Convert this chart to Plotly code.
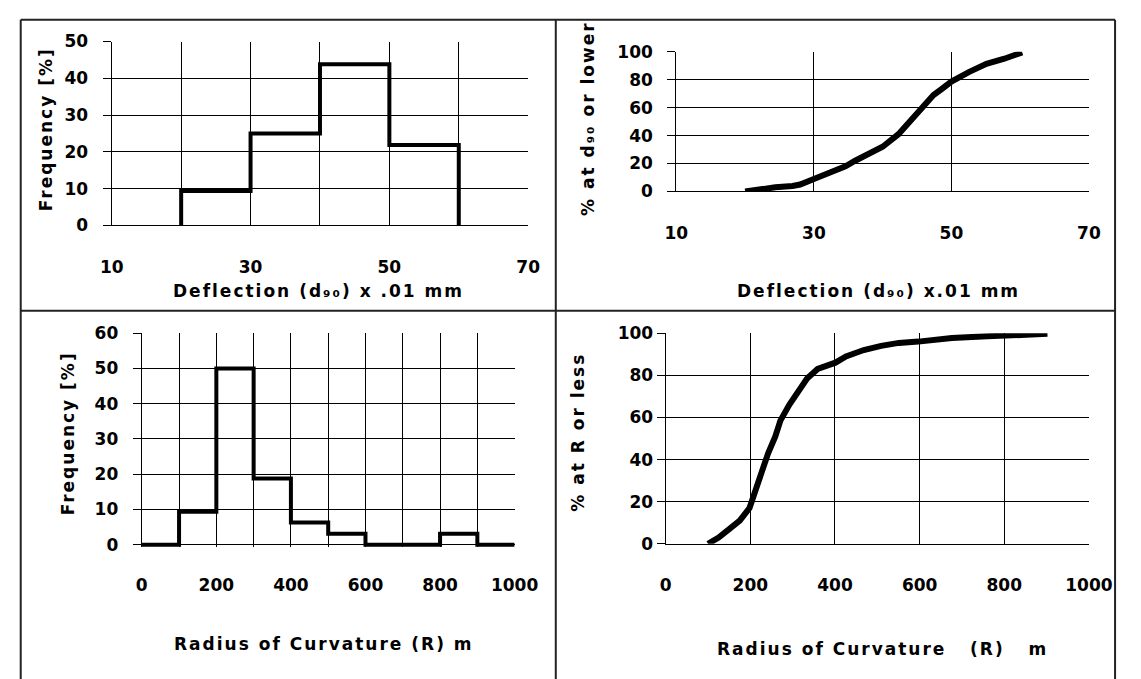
import plotly.graph_objects as go

W, H = 1141, 679

# ---------------- data ----------------
# Top-left: frequency histogram of deflection (d90) x .01 mm
defl_edges = [20, 30, 40, 50, 60]
defl_freq = [9.4, 25.0, 43.8, 21.9]

# Top-right: cumulative % at d90 or lower
defl_cum_x = [20, 22, 24.4, 26.9, 28, 30, 32, 34.6, 36, 38.2, 40, 42.3, 44, 45,
              46, 47.4, 48.5, 50, 52.6, 55.1, 57.7, 60.3]
defl_cum_y = [0, 1.5, 3, 4, 5, 9, 13, 18, 22, 27, 32, 41, 50, 56.5,
              62, 69, 73, 78.6, 85.6, 91.4, 95, 99.5]

# Bottom-left: frequency histogram of radius of curvature (m)
rad_edges = [0, 100, 200, 300, 400, 500, 600, 700, 800, 900, 1000]
rad_freq = [0, 9.4, 50.0, 18.8, 6.3, 3.1, 0, 0, 3.1, 0]

# Bottom-right: cumulative % at R or less
rad_cum_x = [100, 125, 150, 175, 198, 213, 230, 242, 259, 271, 292, 313, 334,
             359, 401, 426, 468, 509, 551, 597, 676, 760, 818, 902]
rad_cum_y = [0, 3, 7, 11, 17, 26, 35, 43, 51, 58.5, 66, 72, 78.5,
             83, 86, 89, 92, 94, 95.4, 96, 97.7, 98.5, 99.2, 99.7]

# tick labels (major) and extra grid positions (minor)
tl_xticks = [10, 30, 50, 70]
tl_xgrid = [20, 40, 60]
tl_yticks = [0, 10, 20, 30, 40, 50]
tr_xticks = [10, 30, 50, 70]
tr_xgrid = []
tr_yticks = [0, 20, 40, 60, 80, 100]
bl_xticks = [0, 200, 400, 600, 800, 1000]
bl_xgrid = [100, 300, 500, 700, 900]
bl_yticks = [0, 10, 20, 30, 40, 50, 60]
br_xticks = [0, 200, 400, 600, 800, 1000]
br_xgrid = []
br_yticks = [0, 20, 40, 60, 80, 100]


def step_line(edges, freq):
    xs, ys = [edges[0]], [0]
    for i, f in enumerate(freq):
        xs += [edges[i], edges[i + 1]]
        ys += [f, f]
    xs.append(edges[-1])
    ys.append(0)
    return xs, ys


def px(x):
    return x / W


def py(y):
    return 1 - y / H


FONT = dict(family="DejaVu Sans", size=17, color="black", weight="bold")

fig = go.Figure()

hx, hy = step_line(defl_edges, defl_freq)
fig.add_trace(go.Scatter(x=hx, y=hy, mode="lines", xaxis="x", yaxis="y",
                         line=dict(color="black", width=4), hoverinfo="skip"))
fig.add_trace(go.Scatter(x=defl_cum_x, y=defl_cum_y, mode="lines", xaxis="x2", yaxis="y2",
                         line=dict(color="black", width=6), hoverinfo="skip"))
rx, ry = step_line(rad_edges, rad_freq)
fig.add_trace(go.Scatter(x=rx, y=ry, mode="lines", xaxis="x3", yaxis="y3",
                         line=dict(color="black", width=4), hoverinfo="skip"))
fig.add_trace(go.Scatter(x=rad_cum_x, y=rad_cum_y, mode="lines", xaxis="x4", yaxis="y4",
                         line=dict(color="black", width=6), hoverinfo="skip"))


def xcfg(anchor, dom, rng, vals, grid, showline=True):
    cfg = dict(anchor=anchor, domain=dom, range=rng, tickmode="array",
               tickvals=vals, ticktext=[str(v) for v in vals], showgrid=True,
               gridcolor="black", gridwidth=1.3, zeroline=False, showline=showline,
               linecolor="black", linewidth=1.3, ticks="", tickfont=FONT,
               ticklabelstandoff=26, fixedrange=True)
    if grid:
        cfg["minor"] = dict(tickmode="array", tickvals=grid, showgrid=True,
                            gridcolor="black", gridwidth=1.3, ticks="")
    return cfg


def ycfg(anchor, dom, rng, vals, standoff):
    return dict(anchor=anchor, domain=dom, range=rng, tickmode="array",
                tickvals=vals, ticktext=[str(v) for v in vals], showgrid=True,
                gridcolor="black", gridwidth=1.3, zeroline=False, showline=True,
                linecolor="black", linewidth=1.3, ticks="outside", ticklen=8,
                tickwidth=1.3, tickcolor="black", tickfont=FONT,
                ticklabelstandoff=standoff, fixedrange=True)


fig.update_layout(
    width=W, height=H, margin=dict(l=0, r=0, t=0, b=0),
    paper_bgcolor="white", plot_bgcolor="white", showlegend=False,
    xaxis=xcfg("y", [px(103), px(533)], [10, 70], tl_xticks, tl_xgrid),
    yaxis=ycfg("x", [py(222), py(32.5)], [0, 50], tl_yticks, 11),
    xaxis2=xcfg("y2", [px(686), px(1112)], [10, 70], tr_xticks, tr_xgrid),
    yaxis2=ycfg("x2", [py(187), py(43)], [0, 100], tr_yticks, 11),
    xaxis3=xcfg("y3", [px(134), px(519)], [0, 1000], bl_xticks, bl_xgrid, showline=False),
    yaxis3=ycfg("x3", [py(553.2), py(333)], [-0.6, 60], bl_yticks, 11),
    xaxis4=xcfg("y4", [px(675), px(1112)], [0, 1000], br_xticks, br_xgrid),
    yaxis4=ycfg("x4", [py(550), py(333)], [0, 100], br_yticks, 0),
)

LS = '<span style="letter-spacing:2px">%s</span>'
titles = [
    ("Deflection (d\u2089\u2080) x .01 mm", 316, 290, 0),
    ("Deflection (d\u2089\u2080) x.01 mm", 895, 290, 0),
    ("Radius of Curvature (R) m", 322, 653, 0),
    ("Radius of Curvature \u00a0 (R) \u00a0 m", 899, 658, 0),
    ("Frequency [%]", 35, 123, -90),
    ("% at d\u2089\u2080 or lower", 594, 112, -90),
    ("Frequency [%]", 58, 436, -90),
    ("% at R or less", 585, 435, -90),
]
for text, x, y, ang in titles:
    fig.add_annotation(text=LS % text, x=px(x), y=py(y), xref="paper", yref="paper",
                       xanchor="center", yanchor="middle", showarrow=False,
                       textangle=ang, font=FONT)

# frame and dividers
frame = dict(color="#222222", width=2)
for x0, y0, x1, y1 in [(9, 10, 1139, 10), (9, 10, 9, 690), (1139, 10, 1139, 690),
                       (561.5, 10, 561.5, 690), (9, 310, 1139, 310)]:
    fig.add_shape(type="line", xref="paper", yref="paper", x0=px(x0), y0=py(y0),
                  x1=px(x1), y1=py(y1), line=frame, layer="above")

fig.write_html("out.html", config={"displayModeBar": False})
